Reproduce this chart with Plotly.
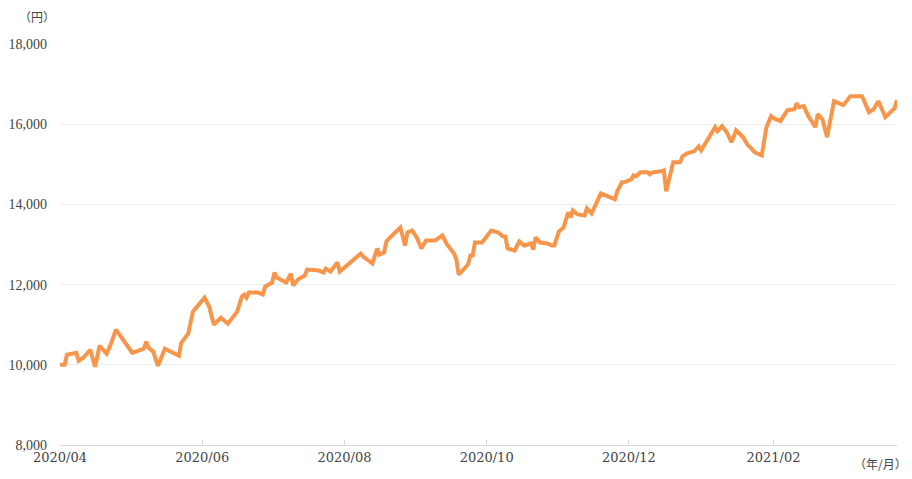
import plotly.graph_objects as go

dates = [
    "2020-04-01", "2020-04-03", "2020-04-04", "2020-04-07", "2020-04-08", "2020-04-09",
    "2020-04-11", "2020-04-14", "2020-04-16", "2020-04-18", "2020-04-21", "2020-04-23",
    "2020-04-25", "2020-05-02", "2020-05-05", "2020-05-07", "2020-05-08", "2020-05-09",
    "2020-05-11", "2020-05-13", "2020-05-16", "2020-05-19", "2020-05-22", "2020-05-23",
    "2020-05-26", "2020-05-28", "2020-05-31", "2020-06-02", "2020-06-04", "2020-06-06",
    "2020-06-09", "2020-06-12", "2020-06-16", "2020-06-18", "2020-06-19", "2020-06-20",
    "2020-06-21", "2020-06-25", "2020-06-27", "2020-06-28", "2020-07-01", "2020-07-02",
    "2020-07-03", "2020-07-07", "2020-07-09", "2020-07-10", "2020-07-12", "2020-07-15",
    "2020-07-16", "2020-07-21", "2020-07-23", "2020-07-24", "2020-07-26", "2020-07-29",
    "2020-07-30", "2020-08-01", "2020-08-06", "2020-08-07", "2020-08-08", "2020-08-09",
    "2020-08-13", "2020-08-15", "2020-08-16", "2020-08-18", "2020-08-19", "2020-08-21",
    "2020-08-23", "2020-08-25", "2020-08-27", "2020-08-28", "2020-08-30", "2020-09-01",
    "2020-09-03", "2020-09-05", "2020-09-09", "2020-09-12", "2020-09-14", "2020-09-17",
    "2020-09-18", "2020-09-19", "2020-09-23", "2020-09-24", "2020-09-25", "2020-09-26",
    "2020-09-29", "2020-10-02", "2020-10-03", "2020-10-06", "2020-10-08", "2020-10-09",
    "2020-10-10", "2020-10-13", "2020-10-15", "2020-10-17", "2020-10-20", "2020-10-21",
    "2020-10-22", "2020-10-24", "2020-10-27", "2020-10-29", "2020-10-30", "2020-11-01",
    "2020-11-03", "2020-11-05", "2020-11-06", "2020-11-07", "2020-11-09", "2020-11-12",
    "2020-11-13", "2020-11-15", "2020-11-17", "2020-11-19", "2020-11-22", "2020-11-25",
    "2020-11-26", "2020-11-28", "2020-11-29", "2020-12-02", "2020-12-03", "2020-12-04",
    "2020-12-06", "2020-12-09", "2020-12-10", "2020-12-11", "2020-12-15", "2020-12-16",
    "2020-12-17", "2020-12-20", "2020-12-23", "2020-12-24", "2020-12-26", "2020-12-29",
    "2020-12-31", "2021-01-01", "2021-01-07", "2021-01-08", "2021-01-10", "2021-01-12",
    "2021-01-14", "2021-01-16", "2021-01-19", "2021-01-21", "2021-01-22", "2021-01-24",
    "2021-01-27", "2021-01-28", "2021-01-29", "2021-01-31", "2021-02-01", "2021-02-04",
    "2021-02-07", "2021-02-10", "2021-02-11", "2021-02-12", "2021-02-14", "2021-02-16",
    "2021-02-19", "2021-02-20", "2021-02-22", "2021-02-24", "2021-02-27", "2021-03-03",
    "2021-03-06", "2021-03-11", "2021-03-12", "2021-03-14", "2021-03-16", "2021-03-18",
    "2021-03-21", "2021-03-24", "2021-03-25", "2021-03-26",
]

values = [
    10000, 10000, 10250, 10275, 10300, 10100,
    10175, 10375, 9950, 10475, 10275, 10550,
    10875, 10300, 10375, 10400, 10575, 10425,
    10325, 9975, 10400, 10300, 10225, 10550,
    10775, 11325, 11550, 11675, 11450, 11000,
    11175, 11025, 11325, 11700, 11750, 11675,
    11800, 11800, 11750, 11950, 12050, 12300,
    12175, 12050, 12275, 11975, 12125, 12225,
    12375, 12350, 12300, 12400, 12325, 12550,
    12325, 12425, 12700, 12725, 12775, 12700,
    12525, 12900, 12750, 12800, 13075, 13200,
    13300, 13425, 12975, 13300, 13350, 13175,
    12900, 13100, 13100, 13225, 13000, 12775,
    12625, 12250, 12500, 12725, 12725, 13050,
    13050, 13250, 13350, 13300, 13200, 13200,
    12900, 12850, 13075, 12975, 13025, 12875,
    13175, 13050, 13025, 12975, 12975, 13325,
    13425, 13800, 13675, 13850, 13750, 13725,
    13900, 13775, 14025, 14275, 14200, 14125,
    14325, 14550, 14550, 14625, 14725, 14700,
    14800, 14800, 14750, 14800, 14825, 14850,
    14325, 15050, 15050, 15200, 15275, 15325,
    15450, 15350, 15925, 15825, 15950, 15800,
    15550, 15850, 15675, 15475, 15425, 15300,
    15225, 15625, 15925, 16200, 16150, 16075,
    16350, 16375, 16525, 16425, 16450, 16200,
    15925, 16250, 16125, 15675, 16575, 16475,
    16700, 16700, 16550, 16300, 16375, 16575,
    16175, 16325, 16400, 16600,
]

y_ticks = [8000, 10000, 12000, 14000, 16000, 18000]
x_ticks = ["2020-04-01", "2020-06-01", "2020-08-01", "2020-10-01", "2020-12-01", "2021-02-01"]
x_tick_labels = ["2020/04", "2020/06", "2020/08", "2020/10", "2020/12", "2021/02"]

SERIF = "Liberation Serif"
CJK = "Noto Sans CJK JP"
TEXT = "#444444"

fig = go.Figure()
fig.add_trace(go.Scatter(
    x=dates, y=values, mode="lines",
    line=dict(color="#f7964a", width=4),
    hoverinfo="skip", showlegend=False,
))

fig.update_layout(
    width=904, height=471,
    margin=dict(l=52, r=15, t=36, b=34, autoexpand=False),
    paper_bgcolor="white", plot_bgcolor="white",
    font=dict(family=SERIF, size=14, color=TEXT),
    xaxis=dict(
        type="date", automargin=False,
        range=["2020-04-01", "2021-03-26"],
        tickvals=x_ticks, ticktext=x_tick_labels,
        showgrid=False, zeroline=False,
        showline=True, linecolor="#d9d9d9", linewidth=1,
        ticks="inside", ticklen=5, tickcolor="#d9d9d9",
        tickfont=dict(family="DejaVu Serif", size=13, color=TEXT),
    ),
    yaxis=dict(
        range=[8000, 18000], automargin=False,
        tickvals=y_ticks, tickformat=",d",
        showgrid=True, gridcolor="#efefef", gridwidth=1,
        zeroline=False, showline=False,
        ticks="", ticklabelstandoff=12,
        tickfont=dict(family=SERIF, size=14, color=TEXT),
    ),
    annotations=[
        dict(text="（円）", xref="paper", yref="paper", x=-0.028, y=1.0, yshift=28,
             xanchor="center", yanchor="middle", showarrow=False,
             font=dict(family=CJK, size=12, color=TEXT)),
        dict(text="（年/月）", xref="paper", yref="paper", x=0.98, y=0, yshift=-18,
             xanchor="center", yanchor="middle", showarrow=False,
             font=dict(family=CJK, size=12, color=TEXT)),
    ],
)

fig.write_html("out.html")
